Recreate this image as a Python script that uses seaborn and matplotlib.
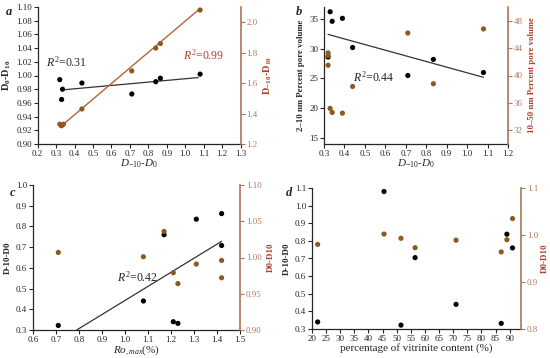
import numpy as np
import pandas as pd
import seaborn as sns
import matplotlib
matplotlib.use("Agg")
import matplotlib.pyplot as plt

sns.set_style("ticks")
plt.rcParams['font.family'] = ['Liberation Serif', 'DejaVu Serif']
plt.rcParams['mathtext.fontset'] = 'custom'
plt.rcParams['mathtext.rm'] = 'Liberation Serif'
plt.rcParams['mathtext.it'] = 'Liberation Serif:italic'
plt.rcParams['mathtext.bf'] = 'Liberation Serif:bold'

BROWN = "#8c5a1e"
SPINE = "#a8765a"
TICKC = "#b07a60"
LABELC = "#b0402a"

# panel a
a_x = [0.32, 0.335, 0.33, 0.44, 0.71, 0.84, 0.865, 1.08]
a_d0_d10 = [0.994, 0.980, 0.965, 0.989, 0.973, 0.991, 0.996, 1.002]
a_x2 = [0.32, 0.33, 0.34, 0.44, 0.71, 0.84, 0.865, 1.08]
a_dm10_d10 = [1.33, 1.32, 1.33, 1.43, 1.68, 1.83, 1.86, 2.08]
a_fit1_x = [0.335, 1.07]
a_fit1_y = [0.979, 0.997]
a_fit2_x = [0.32, 1.08]
a_fit2_y = [1.31, 2.09]

# panel b
b_x = [0.33, 0.34, 0.39, 0.32, 0.44, 0.71, 0.835, 1.08]
b_small = [36.2, 34.6, 35.1, 28.6, 30.2, 25.5, 28.2, 26.0]
b_x2 = [0.32, 0.32, 0.32, 0.33, 0.34, 0.39, 0.44, 0.71, 0.835, 1.08]
b_large = [43.3, 42.9, 41.5, 35.2, 34.6, 34.5, 38.4, 46.2, 38.8, 46.8]
b_fit_x = [0.32, 1.08]
b_fit_y = [32.4, 25.2]

# panel c
c_ro = [0.71, 1.08, 1.17, 1.21, 1.23, 1.31, 1.42, 1.42]
c_dm10_d0 = [0.322, 0.44, 0.76, 0.34, 0.332, 0.835, 0.862, 0.708]
c_d0_d10 = [1.007, 1.001, 1.036, 0.979, 0.964, 0.991, 0.996, 0.972]
c_fit_x = [0.79, 1.42]
c_fit_y = [0.30, 0.728]

# panel d
d_vit = [22, 45.5, 51.5, 56.5, 71, 87, 89, 91]
d_dm10_d0 = [0.34, 1.08, 0.322, 0.705, 0.44, 0.332, 0.838, 0.76]
d_d0_d10 = [0.980, 1.002, 0.993, 0.973, 0.989, 0.964, 0.990, 1.035]

fig = plt.figure(figsize=(5.5, 3.58), dpi=100)
W, H = 550, 358


def make_ax(l, r, t, b):
    return fig.add_axes([l / W, 1 - b / H, (r - l) / W, (b - t) / H])


def style(ax, ax2):
    ax.spines['top'].set_visible(False)
    ax.spines['right'].set_visible(False)
    ax2.spines['top'].set_visible(False)
    ax2.spines['left'].set_visible(False)
    ax2.spines['bottom'].set_visible(False)
    ax2.spines['right'].set_color(SPINE)
    ax2.spines['right'].set_linewidth(1.2)
    for s in ['left', 'bottom']:
        ax.spines[s].set_linewidth(0.9)
    ax.tick_params(labelsize=6.5, length=3, width=0.8, pad=1.2)
    ax2.tick_params(labelsize=6.5, length=3, width=0.8, pad=1.2, colors=SPINE, labelcolor=TICKC)


def dots(ax, x, y, color):
    sns.scatterplot(x=x, y=y, ax=ax, color=color, s=14, edgecolor='none', zorder=3)


# ---- a
ax = make_ax(37.6, 240.7, 7, 144)
ax2 = ax.twinx()
dots(ax, a_x, a_d0_d10, 'black')
sns.lineplot(x=a_fit1_x, y=a_fit1_y, ax=ax, color='#333333', lw=0.9)
dots(ax2, a_x2, a_dm10_d10, BROWN)
sns.lineplot(x=a_fit2_x, y=a_fit2_y, ax=ax2, color='#b5623a', lw=1.0)
ax.set_xlim(0.2, 1.3)
ax.set_ylim(0.9, 1.1)
ax2.set_ylim(1.2, 2.1)
ax.set_xticks(np.arange(0.2, 1.31, 0.1))
ax.set_xticklabels([f"{v:.1f}" for v in np.arange(0.2, 1.31, 0.1)])
ax.set_yticks(np.arange(0.9, 1.101, 0.02))
ax.set_yticklabels([f"{v:.2f}" for v in np.arange(0.9, 1.101, 0.02)])
ax2.set_yticks([1.2, 1.4, 1.6, 1.8, 2.0])
ax2.set_yticklabels(["1.2", "1.4", "1.6", "1.8", "2.0"])
style(ax, ax2)
ax.set_xlabel(r"$D_{-10}$-$D_0$", fontsize=8, labelpad=0)
ax.set_ylabel(r"$\mathbf{D_0}$-$\mathbf{D_{10}}$", fontsize=7.5, fontweight='bold', labelpad=2)
ax2.set_ylabel(r"$\mathbf{D_{-10}}$-$\mathbf{D_{10}}$", fontsize=7.5, fontweight='bold', color=LABELC, labelpad=3)
ax.text(0.245, 1.013, r"$R^2$=0.31", fontsize=8.5)
ax.text(0.985, 1.023, r"$R^2$=0.99", fontsize=8.5, color=LABELC)
fig.text(6 / W, 1 - 15 / H, "a", fontsize=9, fontweight='bold', style='italic')

# ---- b
ax = make_ax(324, 508, 7, 144)
ax2 = ax.twinx()
dots(ax, b_x, b_small, 'black')
sns.lineplot(x=b_fit_x, y=b_fit_y, ax=ax, color='#333333', lw=0.9)
dots(ax2, b_x2, b_large, BROWN)
ax.set_xlim(0.3, 1.2)
ax.set_ylim(14, 37)
ax2.set_ylim(30, 50)
ax.set_xticks(np.arange(0.3, 1.21, 0.1))
ax.set_xticklabels([f"{v:.1f}" for v in np.arange(0.3, 1.21, 0.1)])
ax.set_yticks([15, 20, 25, 30, 35])
ax2.set_yticks([32, 36, 40, 44, 48])
style(ax, ax2)
ax.set_xlabel(r"$D_{-10}$-$D_0$", fontsize=8, labelpad=0)
ax.set_ylabel("2–10 nm Percent pore volume", fontsize=6.3, fontweight='bold', labelpad=3)
ax2.set_ylabel("10–50 nm Percent pore volume", fontsize=6.3, fontweight='bold', color=LABELC, labelpad=4)
ax.text(0.44, 24.4, r"$R^2$=0.44", fontsize=8.5)
fig.text(296 / W, 1 - 15 / H, "b", fontsize=9, fontweight='bold', style='italic')

# ---- c
ax = make_ax(33, 240, 185, 330)
ax2 = ax.twinx()
dots(ax, c_ro, c_dm10_d0, 'black')
sns.lineplot(x=c_fit_x, y=c_fit_y, ax=ax, color='#333333', lw=0.9)
dots(ax2, c_ro, c_d0_d10, BROWN)
ax.set_xlim(0.6, 1.5)
ax.set_ylim(0.3, 1.0)
ax2.set_ylim(0.9, 1.1)
ax.set_xticks(np.arange(0.6, 1.51, 0.1))
ax.set_xticklabels([f"{v:.1f}" for v in np.arange(0.6, 1.51, 0.1)])
ax.set_yticks(np.arange(0.3, 1.01, 0.1))
ax.set_yticklabels([f"{v:.1f}" for v in np.arange(0.3, 1.01, 0.1)])
ax2.set_yticks([0.9, 0.95, 1.0, 1.05, 1.1])
ax2.set_yticklabels(["0.90", "0.95", "1.00", "1.05", "1.10"])
style(ax, ax2)
ax.set_xlabel(r"$Ro_{,max}$(%)", fontsize=8, labelpad=0)
ax.set_ylabel("D-10-D0", fontsize=6.5, fontweight='bold', labelpad=3)
ax2.set_ylabel("D0-D10", fontsize=6.5, fontweight='bold', color=LABELC, labelpad=4)
ax.text(0.965, 0.535, r"$R^2$=0.42", fontsize=8.5)
fig.text(10 / W, 1 - 196 / H, "c", fontsize=9, fontweight='bold', style='italic')

# ---- d
ax = make_ax(312, 521, 188, 329)
ax2 = ax.twinx()
dots(ax, d_vit, d_dm10_d0, 'black')
dots(ax2, d_vit, d_d0_d10, BROWN)
ax.set_xlim(20, 94)
ax.set_ylim(0.3, 1.1)
ax2.set_ylim(0.8, 1.1)
ax.set_xticks(np.arange(20, 91, 5))
ax.set_yticks(np.arange(0.3, 1.11, 0.1))
ax.set_yticklabels([f"{v:.1f}" for v in np.arange(0.3, 1.11, 0.1)])
ax2.set_yticks([0.8, 0.9, 1.0, 1.1])
ax2.set_yticklabels(["0.8", "0.9", "1.0", "1.1"])
style(ax, ax2)
ax.set_xlabel("percentage of vitrinite content (%)", fontsize=8, labelpad=0)
ax.set_ylabel("D-10-D0", fontsize=6.5, fontweight='bold', labelpad=3)
ax2.set_ylabel("D0-D10", fontsize=6.5, fontweight='bold', color=LABELC, labelpad=2)
fig.text(286 / W, 1 - 196 / H, "d", fontsize=9, fontweight='bold', style='italic')

fig.savefig("out.png", dpi=100, facecolor='white')
